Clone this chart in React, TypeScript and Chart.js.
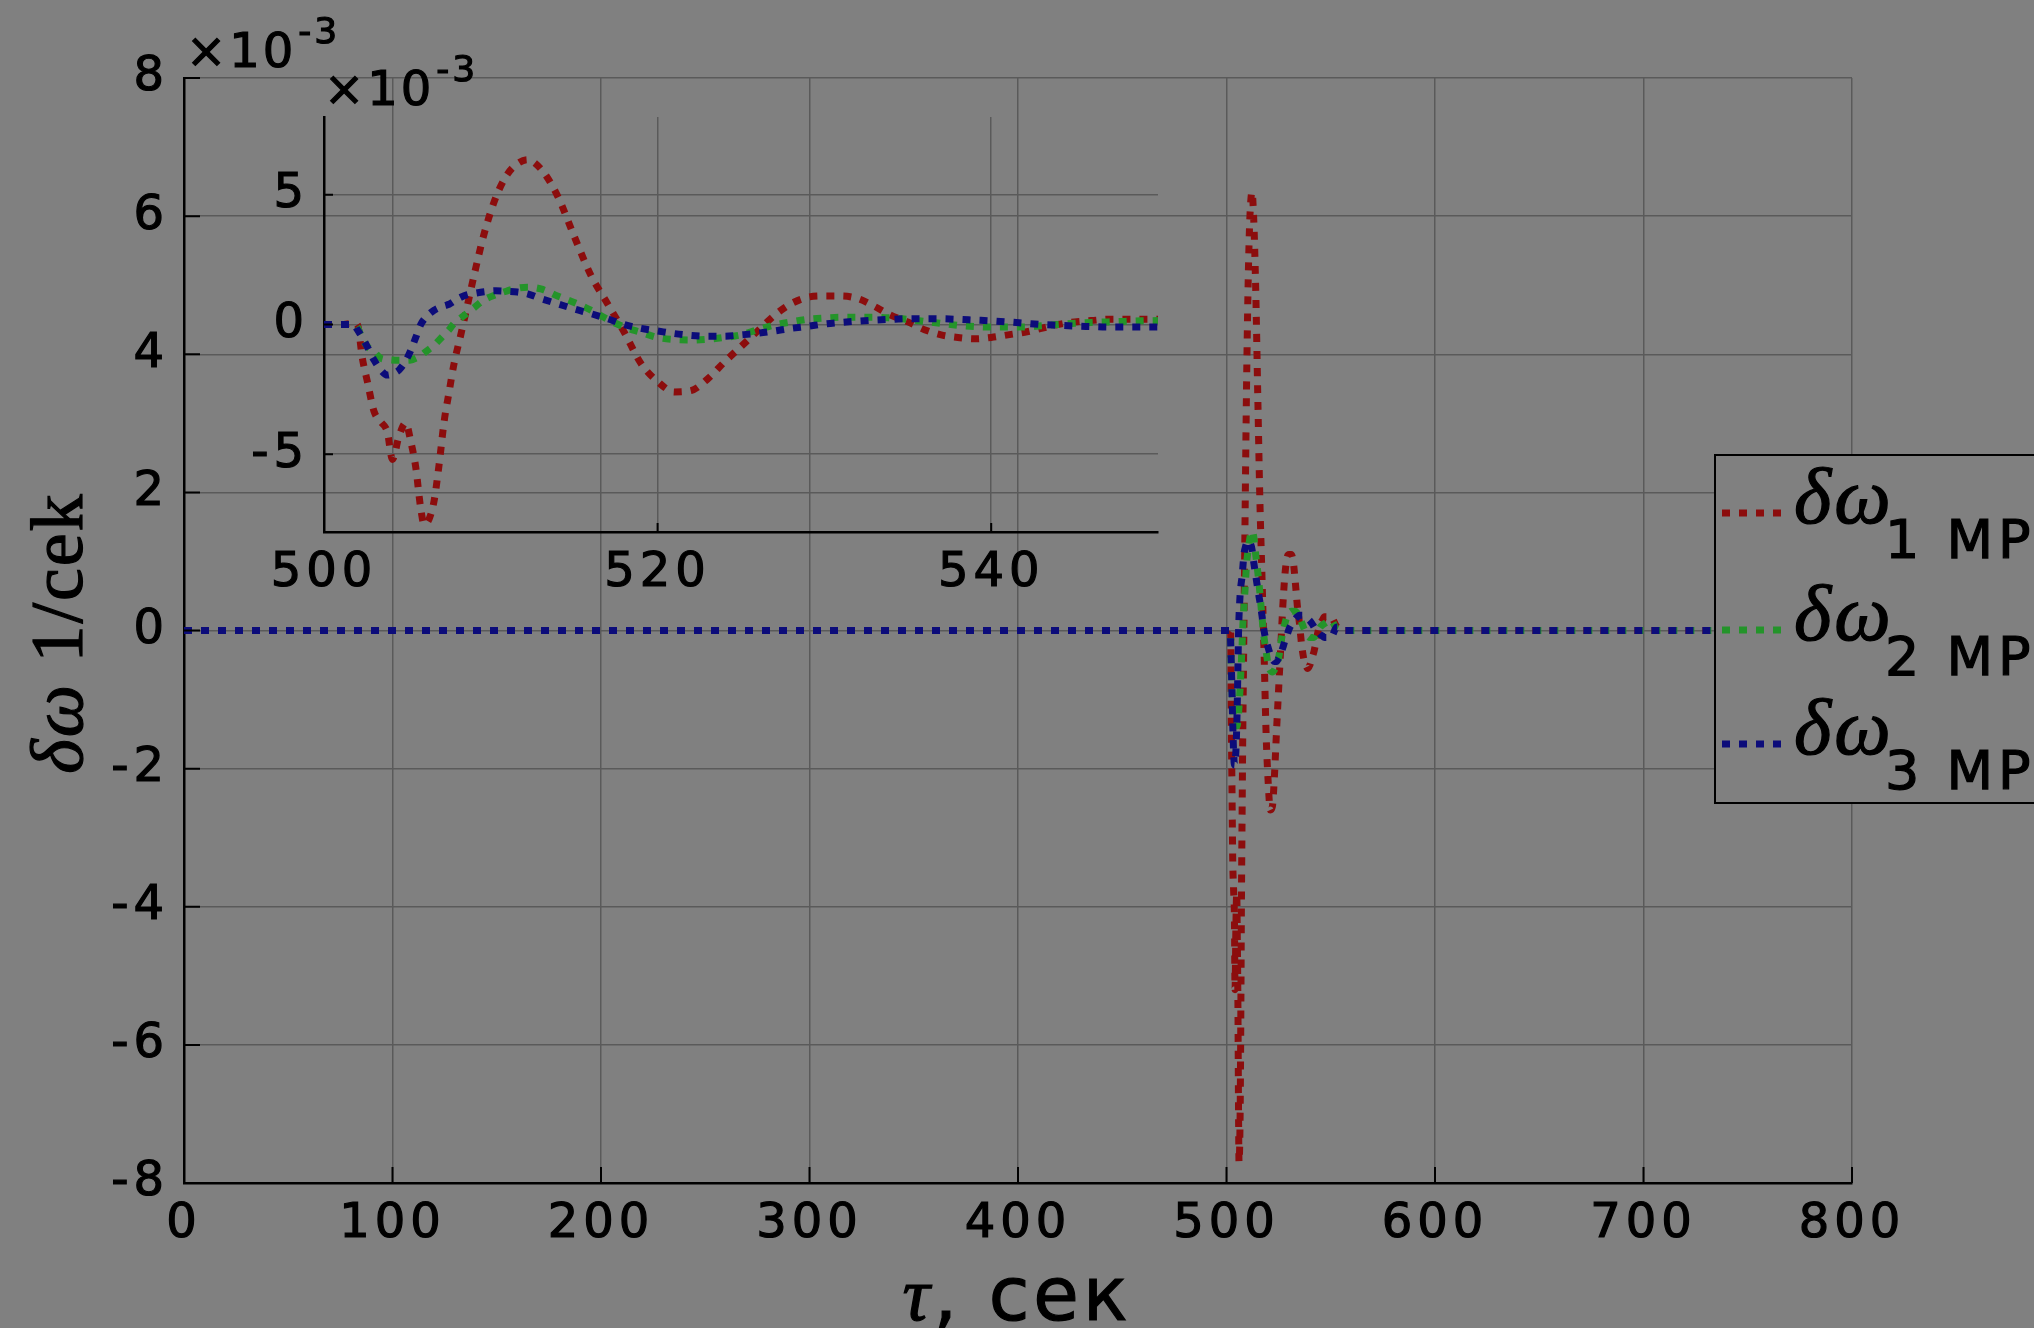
import React, { useEffect, useRef } from "react";
import { Chart, registerables } from "chart.js";

Chart.register(...registerables);

const W = 2034;
const H = 1328;

// ---- data (values in units of 1e-3) ----
const tDetail = [
  500, 501, 501.8, 502.0, 502.3, 502.6, 503.0, 503.4, 503.8, 504.1, 504.5, 504.9, 505.2, 505.5, 505.8,
  506.0, 506.3, 506.6, 506.9, 507.2, 507.5, 507.8, 508.2, 508.6, 509.0, 509.6, 510.3, 511.0, 511.6, 512.2,
  513, 514, 515, 516, 517, 518, 519, 520, 521, 522, 523, 524, 525, 526, 527, 528, 529, 530, 531, 532,
  533, 534, 535, 536, 537, 538, 539, 540, 541, 542, 543, 544, 545, 546, 547, 548, 549, 550,
];
const redDetail = [
  0, 0, 0.05, 0, -1.3, -2.2, -3.35, -3.75, -4.15, -5.2, -4.3, -3.8, -4.5, -5.5, -7.1,
  -7.7, -7.5, -6.8, -5.4, -3.75, -2.6, -1.5, -0.4, 0.74, 1.9, 3.5, 4.9, 5.8, 6.2, 6.35,
  6.0, 4.96, 3.4, 1.9, 0.8, -0.3, -1.5, -2.2, -2.6, -2.55, -2.1, -1.45, -0.85, -0.25, 0.35, 0.8, 1.05, 1.1, 1.1, 1.0,
  0.7, 0.35, 0.1, -0.2, -0.4, -0.5, -0.55, -0.5, -0.4, -0.3, -0.15, 0.0, 0.1, 0.15, 0.2, 0.2, 0.2, 0.2,
];
const greenDetail = [
  0, 0, 0, -0.1, -0.55, -0.85, -1.05, -1.3, -1.35, -1.37, -1.38, -1.38, -1.37, -1.3, -1.2,
  -1.1, -0.95, -0.8, -0.6, -0.4, -0.2, 0.05, 0.25, 0.45, 0.65, 0.95, 1.15, 1.3, 1.4, 1.44,
  1.37, 1.1, 0.85, 0.55, 0.2, -0.1, -0.3, -0.5, -0.58, -0.6, -0.57, -0.5, -0.4, -0.2, -0.02, 0.1, 0.2, 0.25, 0.28, 0.28,
  0.28, 0.25, 0.2, 0.12, 0.04, -0.03, -0.08, -0.1, -0.1, -0.1, -0.05, 0, 0.05, 0.08, 0.1, 0.12, 0.14, 0.15,
];
const blueDetail = [
  0, 0, 0, -0.2, -0.5, -0.86, -1.37, -1.75, -1.95, -1.9, -1.75, -1.4, -1.0, -0.5, 0.0,
  0.2, 0.4, 0.55, 0.65, 0.72, 0.78, 0.9, 1.05, 1.15, 1.2, 1.26, 1.3, 1.28, 1.25, 1.18,
  1.0, 0.8, 0.6, 0.42, 0.22, 0.0, -0.15, -0.25, -0.35, -0.42, -0.45, -0.45, -0.4, -0.34, -0.25, -0.15, -0.07, 0.02, 0.08, 0.13,
  0.17, 0.2, 0.22, 0.22, 0.22, 0.2, 0.17, 0.14, 0.1, 0.05, 0, -0.03, -0.06, -0.08, -0.1, -0.1, -0.1, -0.1,
];
const tHead = [0];
const redHead = [0];
const greenHead = [0];
const blueHead = [0];
const tTail = [553, 557, 800];
const redTail = [0.05, 0, 0];
const greenTail = [0.02, 0, 0];
const blueTail = [0.05, 0, 0];

const mainXTicks = [0, 100, 200, 300, 400, 500, 600, 700, 800];
const mainYTicks = [-8, -6, -4, -2, 0, 2, 4, 6, 8];
const insetXTicks = [500, 520, 540];
const insetYTicks = [-5, 0, 5];
const legendNames = ["1 MP", "2 MP", "3 MP"];

// ---- styles ----
const BG = "#808080";
const GRID = "#5a5a5a";
const RED = "#8c0d0d";
const GREEN = "#24942a";
const BLUE = "#0c0c7a";
const COLORS = [RED, GREEN, BLUE];
const TICK_FONT = { family: "DejaVu Sans", size: 48 };
const STROKE = 1.2;

const pts = (ts: number[], vs: number[]) => ts.map((t, i) => ({ x: t, y: vs[i] }));

function setLS(c: any, v: string) {
  if ("letterSpacing" in c) c.letterSpacing = v;
}

function txt(c: CanvasRenderingContext2D, s: string, x: number, y: number) {
  c.fillText(s, x, y);
  c.strokeStyle = "#000";
  c.lineWidth = STROKE;
  c.setLineDash([]);
  c.strokeText(s, x, y);
}

const lineStyle = {
  borderWidth: 7,
  borderDash: [8, 9],
  borderCapStyle: "butt" as const,
  pointRadius: 0,
  fill: false,
  cubicInterpolationMode: "monotone" as const,
};

function drawExponent(c: CanvasRenderingContext2D, x: number, baseY: number) {
  c.fillStyle = "#000";
  c.textAlign = "left";
  c.textBaseline = "alphabetic";
  setLS(c, "3px");
  c.font = "48px 'DejaVu Sans'";
  txt(c, "\u00d710", x, baseY);
  const w = c.measureText("\u00d710").width;
  c.font = "36px 'DejaVu Sans'";
  txt(c, "-3", x + w + 2, baseY - 24);
  setLS(c, "0px");
}

const mainDecor = {
  id: "mainDecor",
  beforeDraw(chart: any) {
    const c = chart.ctx;
    c.save();
    c.fillStyle = BG;
    c.fillRect(0, 0, chart.width, chart.height);
    c.restore();
    setLS(c, "5px");
  },
  afterDraw(chart: any) {
    const c: CanvasRenderingContext2D = chart.ctx;
    const { left, bottom } = chart.chartArea;
    const xs = chart.scales.x;
    const ys = chart.scales.y;
    c.save();
    setLS(c, "0px");
    // inward tick marks
    c.strokeStyle = "#000";
    c.lineWidth = 2;
    c.setLineDash([]);
    c.beginPath();
    for (const v of mainYTicks) {
      const y = ys.getPixelForValue(v);
      c.moveTo(left, y);
      c.lineTo(left + 16, y);
    }
    for (const v of mainXTicks) {
      const x = xs.getPixelForValue(v);
      c.moveTo(x, bottom);
      c.lineTo(x, bottom - 16);
    }
    c.stroke();

    // exponent label
    drawExponent(c, 186, 67);

    // y axis title
    c.save();
    c.translate(82, 633);
    c.rotate(-Math.PI / 2);
    c.fillStyle = "#000";
    c.textBaseline = "alphabetic";
    c.textAlign = "left";
    setLS(c, "2px");
    const fI = "italic 74px 'Liberation Serif'";
    const fR = "74px 'Liberation Serif'";
    c.font = fI;
    const w1 = c.measureText("\u03b4\u03c9").width;
    c.font = fR;
    const w2 = c.measureText(" 1/cek").width;
    const sx = -(w1 + w2) / 2;
    c.font = fI;
    txt(c, "\u03b4\u03c9", sx, 0);
    c.font = fR;
    txt(c, " 1/cek", sx + w1, 0);
    c.restore();

    // x axis title
    c.fillStyle = "#000";
    c.textBaseline = "alphabetic";
    c.textAlign = "left";
    setLS(c, "4px");
    const fT = "italic 76px 'Liberation Serif'";
    const fS = "74px 'DejaVu Sans'";
    c.font = fT;
    const wt = c.measureText("\u03c4").width;
    c.font = fS;
    const ws = c.measureText(", \u0441\u0435\u043a").width;
    const xs0 = 1017 - (wt + ws) / 2;
    c.font = fT;
    txt(c, "\u03c4", xs0, 1320);
    c.font = fS;
    txt(c, ", \u0441\u0435\u043a", xs0 + wt, 1320);

    // legend
    setLS(c, "0px");
    c.fillStyle = BG;
    c.fillRect(1715, 455, 400, 348);
    c.strokeStyle = "#000";
    c.lineWidth = 2;
    c.strokeRect(1715, 455, 400, 348);
    const ly = [513, 630, 744];
    for (let i = 0; i < 3; i++) {
      c.strokeStyle = COLORS[i];
      c.lineWidth = 7;
      c.setLineDash([8, 9]);
      c.beginPath();
      c.moveTo(1722, ly[i]);
      c.lineTo(1790, ly[i]);
      c.stroke();
      c.setLineDash([]);
      c.fillStyle = "#000";
      c.font = "italic 80px 'Liberation Serif'";
      setLS(c, "3px");
      txt(c, "\u03b4\u03c9", 1794, ly[i] + 10);
      c.font = "54px 'DejaVu Sans'";
      setLS(c, "5px");
      txt(c, legendNames[i], 1885, ly[i] + 45);
    }
    c.restore();
    setLS(c, "0px");
  },
};

const insetDecor = {
  id: "insetDecor",
  beforeDraw(chart: any) {
    setLS(chart.ctx, "5px");
  },
  afterDraw(chart: any) {
    const c: CanvasRenderingContext2D = chart.ctx;
    const { left, bottom } = chart.chartArea;
    const xs = chart.scales.x;
    const ys = chart.scales.y;
    c.save();
    setLS(c, "0px");
    c.strokeStyle = "#000";
    c.lineWidth = 2;
    c.setLineDash([]);
    c.beginPath();
    for (const v of insetYTicks) {
      const y = ys.getPixelForValue(v);
      c.moveTo(left, y);
      c.lineTo(left + 9, y);
    }
    for (const v of insetXTicks) {
      const x = xs.getPixelForValue(v);
      c.moveTo(x, bottom);
      c.lineTo(x, bottom - 9);
    }
    c.stroke();
    drawExponent(c, 324, 105);
    c.restore();
    setLS(c, "0px");
  },
};

function makeScales(
  xMin: number, xMax: number, xTicks: number[],
  yMin: number, yMax: number, yTicks: number[],
  yWidth: number, xHeight: number
) {
  const common = {
    type: "linear" as const,
    grid: { color: GRID, lineWidth: 1.5, drawTicks: false },
    border: { color: "#000", width: 2.5 },
  };
  const tickCommon = {
    font: TICK_FONT,
    color: "#000",
    autoSkip: false,
    textStrokeColor: "#000",
    textStrokeWidth: STROKE,
  };
  return {
    x: {
      ...common,
      min: xMin,
      max: xMax,
      ticks: { ...tickCommon, padding: 13, maxRotation: 0 },
      afterBuildTicks: (ax: any) => { ax.ticks = xTicks.map((v) => ({ value: v })); },
      afterFit: (ax: any) => { ax.height = xHeight; },
    },
    y: {
      ...common,
      min: yMin,
      max: yMax,
      ticks: { ...tickCommon, padding: 15 },
      afterBuildTicks: (ax: any) => { ax.ticks = yTicks.map((v) => ({ value: v })); },
      afterFit: (ax: any) => { ax.width = yWidth; },
    },
  };
}

export default function App() {
  const mainRef = useRef<HTMLCanvasElement | null>(null);
  const insetRef = useRef<HTMLCanvasElement | null>(null);

  useEffect(() => {
    document.body.style.margin = "0";
    const mainData = [
      pts([...tHead, ...tDetail, ...tTail], [...redHead, ...redDetail, ...redTail]),
      pts([...tHead, ...tDetail, ...tTail], [...greenHead, ...greenDetail, ...greenTail]),
      pts([...tHead, ...tDetail, ...tTail], [...blueHead, ...blueDetail, ...blueTail]),
    ];
    const insetData = [pts(tDetail, redDetail), pts(tDetail, greenDetail), pts(tDetail, blueDetail)];
    const orders = [2, 1, 0];

    const main = new Chart(mainRef.current as HTMLCanvasElement, {
      type: "line",
      data: {
        datasets: mainData.map((d, i) => ({
          label: "\u03b4\u03c9" + legendNames[i],
          data: d,
          borderColor: COLORS[i],
          order: orders[i],
          ...lineStyle,
        })),
      },
      options: {
        animation: false,
        responsive: false,
        devicePixelRatio: 1,
        layout: { padding: { left: 0, top: 78, right: 182, bottom: 0 } },
        plugins: { legend: { display: false }, tooltip: { enabled: false } },
        scales: makeScales(0, 800, mainXTicks, -8, 8, mainYTicks, 184, 145) as any,
      },
      plugins: [mainDecor as any],
    });

    const inset = new Chart(insetRef.current as HTMLCanvasElement, {
      type: "line",
      data: {
        datasets: insetData.map((d, i) => ({
          label: "\u03b4\u03c9" + legendNames[i],
          data: d,
          borderColor: COLORS[i],
          order: orders[i],
          ...lineStyle,
        })),
      },
      options: {
        animation: false,
        responsive: false,
        devicePixelRatio: 1,
        layout: { padding: { left: 0, top: 117, right: W - 1158, bottom: 0 } },
        plugins: { legend: { display: false }, tooltip: { enabled: false } },
        scales: makeScales(500, 550, insetXTicks, -8, 8, insetYTicks, 324, H - 532) as any,
      },
      plugins: [insetDecor as any],
    });

    return () => {
      main.destroy();
      inset.destroy();
    };
  }, []);

  return (
    <div style={{ position: "fixed", left: 0, top: 0, width: W, height: H, background: BG }}>
      <canvas ref={mainRef} width={W} height={H} style={{ position: "absolute", left: 0, top: 0, width: W, height: H }} />
      <canvas
        ref={insetRef}
        width={W}
        height={H}
        style={{ position: "absolute", left: 0, top: 0, width: W, height: H, pointerEvents: "none" }}
      />
    </div>
  );
}
